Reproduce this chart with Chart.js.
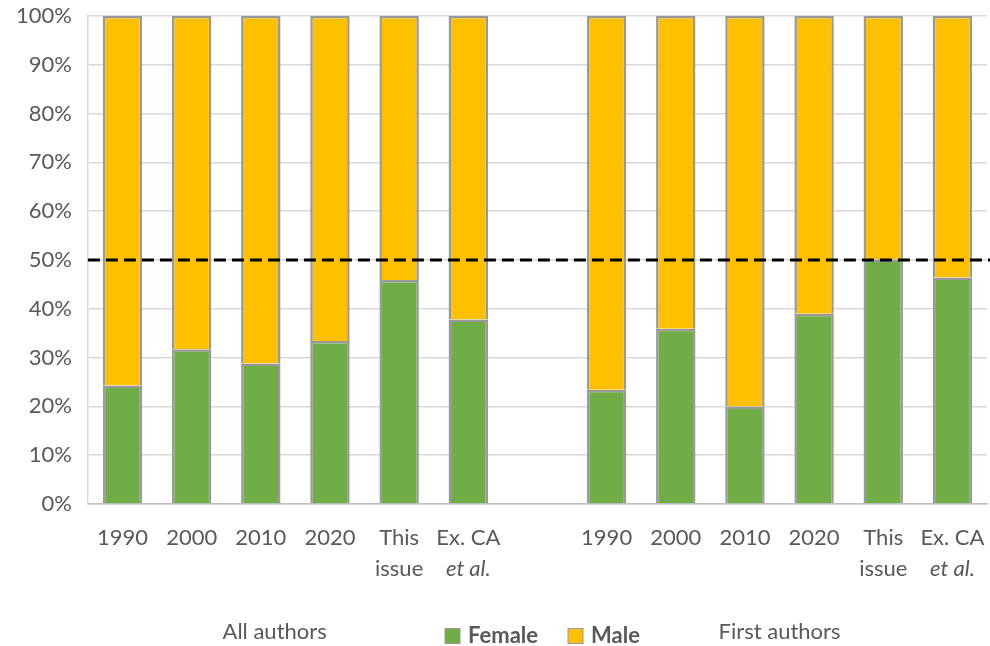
<!DOCTYPE html>
<html>
<head>
<meta charset="utf-8">
<script src="https://cdn.jsdelivr.net/npm/chart.js@4"></script>
<style>
  html, body { margin: 0; padding: 0; background: #fff; }
  #wrap { width: 990px; height: 646px; }
</style>
</head>
<body>
<div id="wrap"><canvas id="genderChart"></canvas></div>
<script>
// Categorias: 6 de "All authors", hueco, 6 de "First authors"
const categories = [
    ['1990'], ['2000'], ['2010'], ['2020'], ['This', 'issue'], ['Ex. CA', 'et al.'],
    [''],
    ['1990'], ['2000'], ['2010'], ['2020'], ['This', 'issue'], ['Ex. CA', 'et al.']
];
const femaleValues = [24.3, 31.7, 28.8, 33.4, 45.9, 37.8, null, 23.4, 35.9, 20.0, 39.0, 50.1, 46.4];
const maleValues   = [75.7, 68.3, 71.2, 66.6, 54.1, 62.2, null, 76.6, 64.1, 80.0, 61.0, 49.9, 53.6];
const yTicks = [0, 10, 20, 30, 40, 50, 60, 70, 80, 90, 100];
const parityLine = 50;
const groupLabels = [
    { text: 'All authors', at: 2.2 },
    { text: 'First authors', at: 9.5 }
];

const FONT = 'Lato, "Open Sans", sans-serif';
const TEXT_COLOR = '#595959';

// Dibuja la linea de paridad, etiquetas del eje x, grupos y leyenda
const extrasPlugin = {
    id: 'extras',
    afterDatasetsDraw(chart) {
        const { ctx, chartArea, scales } = chart;
        const y = scales.y.getPixelForValue(parityLine);
        ctx.save();
        ctx.strokeStyle = '#000';
        ctx.lineWidth = 3;
        ctx.setLineDash([12, 6]);
        ctx.beginPath();
        ctx.moveTo(chartArea.left, y);
        ctx.lineTo(chart.width, y);
        ctx.stroke();
        ctx.restore();
    },
    afterDraw(chart) {
        const { ctx, scales } = chart;
        const x = scales.x;
        const base = x.top;
        ctx.save();
        ctx.fillStyle = TEXT_COLOR;
        ctx.textAlign = 'center';
        ctx.textBaseline = 'middle';

        // etiquetas del eje x
        categories.forEach((lines, i) => {
            const px = x.getPixelForTick(i);
            lines.forEach((txt, j) => {
                ctx.font = (txt === 'et al.' ? 'italic ' : '') + '22px ' + FONT;
                ctx.fillText(txt, px, base + 34 + j * 31);
            });
        });

        // nombres de grupo
        ctx.font = '22px ' + FONT;
        groupLabels.forEach(g => {
            ctx.fillText(g.text, x.getPixelForValue(g.at), base + 128);
        });

        // leyenda
        const ds = chart.data.datasets;
        ctx.font = 'bold 22px ' + FONT;
        const box = 15, gap = 8, spacing = 30;
        const widths = ds.map(d => box + gap + ctx.measureText(d.label).width);
        const total = widths.reduce((a, b) => a + b, 0) + spacing * (ds.length - 1);
        let lx = x.getPixelForValue(6) + 5 - total / 2;
        const ly = base + 132;
        ctx.textAlign = 'left';
        ds.forEach((d, i) => {
            ctx.fillStyle = d.backgroundColor;
            ctx.fillRect(lx, ly - box / 2, box, box);
            ctx.strokeStyle = d.borderColor;
            ctx.lineWidth = 1;
            ctx.strokeRect(lx, ly - box / 2, box, box);
            ctx.fillStyle = TEXT_COLOR;
            ctx.fillText(d.label, lx + box + gap, ly);
            lx += widths[i] + spacing;
        });
        ctx.restore();
    }
};

const ctx = document.getElementById('genderChart').getContext('2d');

new Chart(ctx, {
    type: 'bar',
    data: {
        labels: categories,
        datasets: [
            {
                label: 'Female',
                data: femaleValues,
                backgroundColor: '#70ad47',
                borderColor: '#999999',
                borderWidth: 2.5,
            },
            {
                label: 'Male',
                data: maleValues,
                backgroundColor: '#ffc000',
                borderColor: '#999999',
                borderWidth: 2.5,
            }
        ]
    },
    options: {
        responsive: true,
        maintainAspectRatio: false,
        animation: false,
        layout: {
            padding: { top: 16, right: 3, bottom: 40, left: 0 }
        },
        plugins: {
            legend: { display: false },
            tooltip: { enabled: false }
        },
        datasets: {
            bar: { barPercentage: 0.57, categoryPercentage: 1.0 }
        },
        scales: {
            x: {
                stacked: true,
                grid: { display: false },
                border: { display: true, color: '#bfbfbf', width: 1.5 },
                afterFit: (scale) => {
                    scale.paddingLeft = 0;
                    scale.paddingRight = 0;
                },
                ticks: {
                    color: 'rgba(0,0,0,0)',
                    font: { family: FONT, size: 20, lineHeight: '31px' },
                    padding: 16,
                    maxRotation: 0,
                    autoSkip: false
                }
            },
            y: {
                stacked: true,
                min: 0,
                max: 100,
                afterBuildTicks: (scale) => {
                    scale.ticks = yTicks.map(v => ({ value: v }));
                },
                afterFit: (scale) => {
                    scale.paddingTop = 0;
                },
                grid: { color: '#d9d9d9', lineWidth: 1.5, drawTicks: false },
                border: { display: true, color: '#d9d9d9', width: 1.5 },
                ticks: {
                    color: TEXT_COLOR,
                    font: { family: FONT, size: 22, lineHeight: '24px' },
                    padding: 16,
                    callback: v => v + '%'
                }
            }
        }
    },
    plugins: [extrasPlugin]
});
</script>
</body>
</html>
